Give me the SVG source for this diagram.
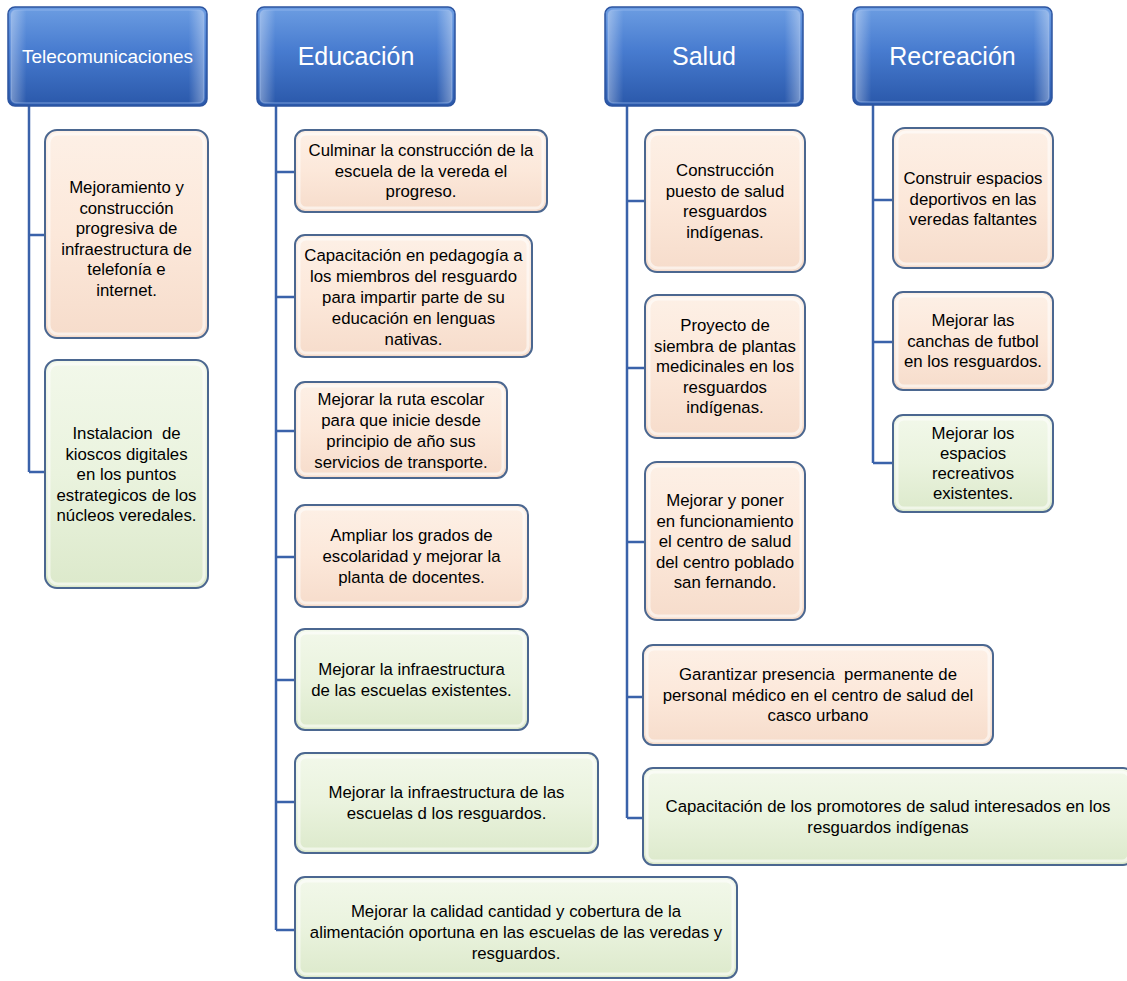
<svg xmlns="http://www.w3.org/2000/svg" width="1127" height="981" viewBox="0 0 1127 981">
<defs>
<linearGradient id="gHead" x1="0" y1="0" x2="0" y2="1">
<stop offset="0" stop-color="#6c9de2"/>
<stop offset="0.45" stop-color="#477bcf"/>
<stop offset="1" stop-color="#2a58aa"/>
</linearGradient>
<linearGradient id="gHeadSide" x1="0" y1="0" x2="1" y2="0">
<stop offset="0" stop-color="#ffffff" stop-opacity="0.35"/>
<stop offset="0.08" stop-color="#ffffff" stop-opacity="0"/>
<stop offset="0.92" stop-color="#ffffff" stop-opacity="0"/>
<stop offset="1" stop-color="#ffffff" stop-opacity="0.35"/>
</linearGradient>
<linearGradient id="gPeach" x1="0" y1="0" x2="0" y2="1">
<stop offset="0" stop-color="#fdf0e6"/>
<stop offset="0.5" stop-color="#fce8da"/>
<stop offset="1" stop-color="#f6dccb"/>
</linearGradient>
<linearGradient id="gGreen" x1="0" y1="0" x2="0" y2="1">
<stop offset="0" stop-color="#f2f8ea"/>
<stop offset="0.5" stop-color="#eaf3de"/>
<stop offset="1" stop-color="#dce9cb"/>
</linearGradient>
</defs>
<style>
.head{fill:url(#gHead);stroke:#2c54a0;stroke-width:1.5}
.headhl{fill:url(#gHeadSide);stroke:#9dbdf0;stroke-opacity:0.45;stroke-width:1.5}
.peach{fill:url(#gPeach);stroke:#4b6790;stroke-width:2}
.green{fill:url(#gGreen);stroke:#4b6790;stroke-width:2}
.inner{fill:none;stroke:#ffffff;stroke-opacity:0.55;stroke-width:3}
.ht{font-family:"Liberation Sans",Arial,sans-serif;fill:#ffffff;text-anchor:middle}
.t{font-family:"Liberation Sans",Arial,sans-serif;font-size:16.8px;fill:#000000;text-anchor:middle;white-space:pre}
.conn{fill:none;stroke:#3a62aa;stroke-width:2.5}
</style>
<rect width="1127" height="981" fill="#ffffff"/>

<g id="connectors">
<path class="conn" d="M29 106 V472 M29 235 H45 M29 472 H45"/>
<path class="conn" d="M276 106 V930 M276 172 H295 M276 297 H295 M276 431 H295 M276 557 H295 M276 680 H295 M276 802 H295 M276 930 H295"/>
<path class="conn" d="M627 106 V818 M627 201 H645 M627 368 H645 M627 542 H645 M627 697 H643 M627 818 H643"/>
<path class="conn" d="M873 105 V463 M873 200 H893 M873 342 H893 M873 463 H893"/>
</g>

<g id="h-tele">
<rect class="head" x="8" y="7" width="199" height="99" rx="7"/>
<rect class="headhl" x="11" y="10" width="193" height="93" rx="5"/>
<text class="ht" x="107.5" y="63" font-size="19">Telecomunicaciones</text>
</g>
<g id="h-edu">
<rect class="head" x="257" y="7" width="198" height="99" rx="7"/>
<rect class="headhl" x="260" y="10" width="192" height="93" rx="5"/>
<text class="ht" x="356" y="65" font-size="25">Educación</text>
</g>
<g id="h-salud">
<rect class="head" x="605" y="7" width="198" height="99" rx="7"/>
<rect class="headhl" x="608" y="10" width="192" height="93" rx="5"/>
<text class="ht" x="704" y="65" font-size="25">Salud</text>
</g>
<g id="h-rec">
<rect class="head" x="853" y="7" width="199" height="98" rx="7"/>
<rect class="headhl" x="856" y="10" width="193" height="92" rx="5"/>
<text class="ht" x="952.5" y="65" font-size="25">Recreación</text>
</g>

<g id="tele-1">
<rect class="peach" x="45" y="130" width="163" height="208" rx="12"/>
<rect class="inner" x="49" y="134" width="155" height="200" rx="9"/>
<text class="t"><tspan x="126.5" y="193">Mejoramiento y</tspan><tspan x="126.5" dy="20.5">construcción</tspan><tspan x="126.5" dy="20.5">progresiva de</tspan><tspan x="126.5" dy="20.5">infraestructura de</tspan><tspan x="126.5" dy="20.5">telefonía e</tspan><tspan x="126.5" dy="20.5">internet.</tspan></text>
</g>
<g id="tele-2">
<rect class="green" x="45" y="360" width="163" height="228" rx="12"/>
<rect class="inner" x="49" y="364" width="155" height="220" rx="9"/>
<text class="t" xml:space="preserve"><tspan x="126.5" y="439">Instalacion  de</tspan><tspan x="126.5" dy="20.5">kioscos digitales</tspan><tspan x="126.5" dy="20.5">en los puntos</tspan><tspan x="126.5" dy="20.5">estrategicos de los</tspan><tspan x="126.5" dy="20.5">núcleos veredales.</tspan></text>
</g>

<g id="edu-1">
<rect class="peach" x="295" y="130" width="252" height="82" rx="10"/>
<rect class="inner" x="299" y="134" width="244" height="74" rx="7"/>
<text class="t"><tspan x="421" y="156">Culminar la construcción de la</tspan><tspan x="421" dy="20.5">escuela de la vereda el</tspan><tspan x="421" dy="20.5">progreso.</tspan></text>
</g>
<g id="edu-2">
<rect class="peach" x="295" y="235" width="237" height="122" rx="10"/>
<rect class="inner" x="299" y="239" width="229" height="114" rx="7"/>
<text class="t"><tspan x="413.5" y="261">Capacitación en pedagogía a</tspan><tspan x="413.5" dy="21">los miembros del resguardo</tspan><tspan x="413.5" dy="21">para impartir parte de su</tspan><tspan x="413.5" dy="21">educación en lenguas</tspan><tspan x="413.5" dy="21">nativas.</tspan></text>
</g>
<g id="edu-3">
<rect class="peach" x="295" y="382" width="212" height="96" rx="10"/>
<rect class="inner" x="299" y="386" width="204" height="88" rx="7"/>
<text class="t"><tspan x="401" y="405">Mejorar la ruta escolar</tspan><tspan x="401" dy="21">para que inicie desde</tspan><tspan x="401" dy="21">principio de año sus</tspan><tspan x="401" dy="21">servicios de transporte.</tspan></text>
</g>
<g id="edu-4">
<rect class="peach" x="295" y="505" width="233" height="102" rx="10"/>
<rect class="inner" x="299" y="509" width="225" height="94" rx="7"/>
<text class="t"><tspan x="411.5" y="541">Ampliar los grados de</tspan><tspan x="411.5" dy="21">escolaridad y mejorar la</tspan><tspan x="411.5" dy="21">planta de docentes.</tspan></text>
</g>
<g id="edu-5">
<rect class="green" x="295" y="629" width="233" height="101" rx="10"/>
<rect class="inner" x="299" y="633" width="225" height="93" rx="7"/>
<text class="t"><tspan x="411.5" y="675">Mejorar la infraestructura</tspan><tspan x="411.5" dy="20.5">de las escuelas existentes.</tspan></text>
</g>
<g id="edu-6">
<rect class="green" x="295" y="753" width="303" height="100" rx="10"/>
<rect class="inner" x="299" y="757" width="295" height="92" rx="7"/>
<text class="t"><tspan x="446.5" y="798">Mejorar la infraestructura de las</tspan><tspan x="446.5" dy="20.5">escuelas d los resguardos.</tspan></text>
</g>
<g id="edu-7">
<rect class="green" x="295" y="877" width="442" height="101" rx="10"/>
<rect class="inner" x="299" y="881" width="434" height="93" rx="7"/>
<text class="t"><tspan x="516" y="917">Mejorar la calidad cantidad y cobertura de la</tspan><tspan x="516" dy="21">alimentación oportuna en las escuelas de las veredas y</tspan><tspan x="516" dy="21">resguardos.</tspan></text>
</g>

<g id="salud-1">
<rect class="peach" x="645" y="130" width="160" height="142" rx="12"/>
<rect class="inner" x="649" y="134" width="152" height="134" rx="9"/>
<text class="t"><tspan x="725" y="176">Construcción</tspan><tspan x="725" dy="20.5">puesto de salud</tspan><tspan x="725" dy="20.5">resguardos</tspan><tspan x="725" dy="20.5">indígenas.</tspan></text>
</g>
<g id="salud-2">
<rect class="peach" x="645" y="295" width="160" height="143" rx="12"/>
<rect class="inner" x="649" y="299" width="152" height="135" rx="9"/>
<text class="t"><tspan x="725" y="331">Proyecto de</tspan><tspan x="725" dy="20.5">siembra de plantas</tspan><tspan x="725" dy="20.5">medicinales en los</tspan><tspan x="725" dy="20.5">resguardos</tspan><tspan x="725" dy="20.5">indígenas.</tspan></text>
</g>
<g id="salud-3">
<rect class="peach" x="645" y="462" width="160" height="158" rx="12"/>
<rect class="inner" x="649" y="466" width="152" height="150" rx="9"/>
<text class="t"><tspan x="725" y="506">Mejorar y poner</tspan><tspan x="725" dy="20.5">en funcionamiento</tspan><tspan x="725" dy="20.5">el centro de salud</tspan><tspan x="725" dy="20.5">del centro poblado</tspan><tspan x="725" dy="20.5">san fernando.</tspan></text>
</g>
<g id="salud-4">
<rect class="peach" x="643" y="645" width="350" height="100" rx="10"/>
<rect class="inner" x="647" y="649" width="342" height="92" rx="7"/>
<text class="t" xml:space="preserve"><tspan x="818" y="680">Garantizar presencia  permanente de</tspan><tspan x="818" dy="20.5">personal médico en el centro de salud del</tspan><tspan x="818" dy="20.5">casco urbano</tspan></text>
</g>
<g id="salud-5">
<rect class="green" x="643" y="768" width="490" height="97" rx="10"/>
<rect class="inner" x="647" y="772" width="482" height="89" rx="7"/>
<text class="t"><tspan x="888" y="812">Capacitación de los promotores de salud interesados en los</tspan><tspan x="888" dy="20.5">resguardos indígenas</tspan></text>
</g>

<g id="rec-1">
<rect class="peach" x="893" y="128" width="160" height="140" rx="12"/>
<rect class="inner" x="897" y="132" width="152" height="132" rx="9"/>
<text class="t"><tspan x="973" y="184">Construir espacios</tspan><tspan x="973" dy="20.5">deportivos en las</tspan><tspan x="973" dy="20.5">veredas faltantes</tspan></text>
</g>
<g id="rec-2">
<rect class="peach" x="893" y="292" width="160" height="98" rx="10"/>
<rect class="inner" x="897" y="296" width="152" height="90" rx="7"/>
<text class="t"><tspan x="973" y="326">Mejorar las</tspan><tspan x="973" dy="20.5">canchas de futbol</tspan><tspan x="973" dy="20.5">en los resguardos.</tspan></text>
</g>
<g id="rec-3">
<rect class="green" x="893" y="415" width="160" height="97" rx="10"/>
<rect class="inner" x="897" y="419" width="152" height="89" rx="7"/>
<text class="t"><tspan x="973" y="439">Mejorar los</tspan><tspan x="973" dy="20">espacios</tspan><tspan x="973" dy="20">recreativos</tspan><tspan x="973" dy="20">existentes.</tspan></text>
</g>
</svg>
